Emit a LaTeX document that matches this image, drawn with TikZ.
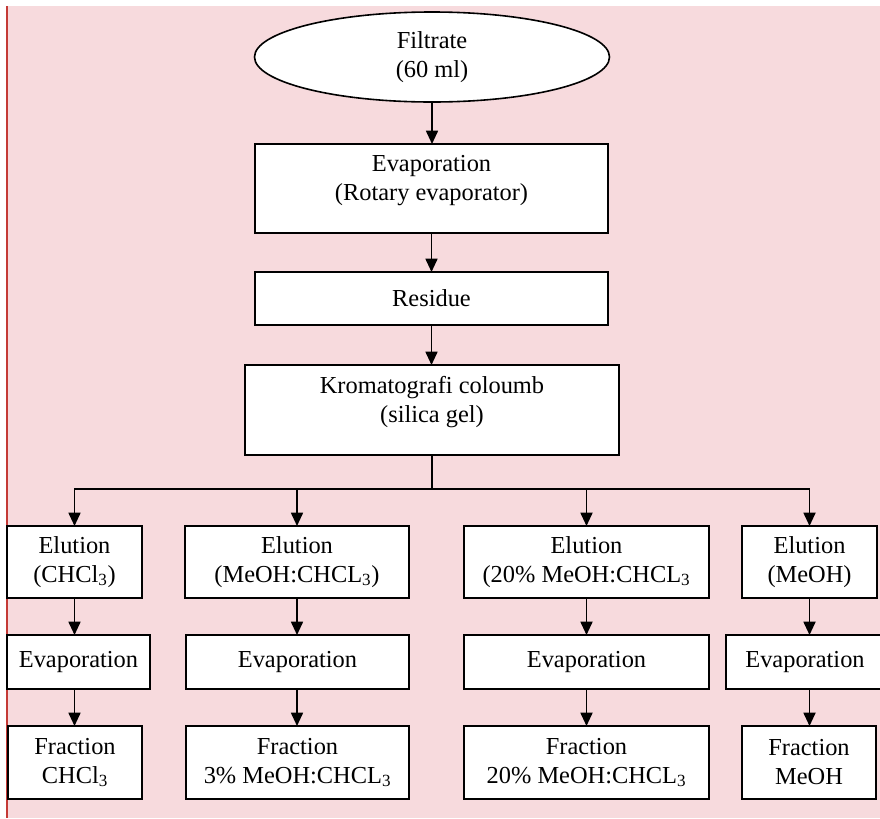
\documentclass[tikz,border=0pt]{standalone}
\usepackage{fontspec}
\setmainfont{Liberation Serif}
\usetikzlibrary{shapes.geometric,arrows.meta}
\definecolor{bgpink}{HTML}{F7DADD}
\definecolor{edgered}{HTML}{C43A36}
\begin{document}
\begin{tikzpicture}[x=0.75pt,y=-0.75pt,
  font=\fontsize{18.3}{21.75}\selectfont,
  every node/.style={inner sep=0pt, outer sep=0pt},
  box/.style={draw=black, line width=1.2pt, fill=white, rectangle, align=center},
  oval/.style={draw=black, line width=1.2pt, fill=white, ellipse, align=center},
  sz/.style 2 args={minimum width=#1*0.75pt, minimum height=#2*0.75pt},
  txt/.style={align=center},
  conn/.style={line width=1.3pt},
  arr/.style={line width=1.3pt, -{Triangle[length=10pt,width=9pt]}}]

% page and background panel
\useasboundingbox (0,0) rectangle (880,818);
\fill[white] (0,0) rectangle (880,818);
\fill[bgpink] (7,6) rectangle (880,818);
\draw[edgered, line width=1pt] (7,6) -- (7,818);

% main chain
\node[oval, sz={355}{90}] (fil) at (432,57) {Filtrate\\(60 ml)};
\node[box, sz={353}{89}] (evap) at (431.5,188.5) {};
\node[txt] (evaptxt) at (431.5,180.5) {Evaporation\\(Rotary evaporator)};
\node[box, sz={353}{53}] (res) at (431.5,298.5) {Residue};
\node[box, sz={374}{90}] (krom) at (432,410) {};
\node[txt] (kromtxt) at (432,402) {Kromatografi coloumb\\(silica gel)};
\coordinate (split) at (432,489);

% elution row
\node[box, sz={135}{72}] (e1) at (74.5,562) {Elution\\(CHCl\textsubscript{3})};
\node[box, sz={224}{72}] (e2) at (297,562) {Elution\\(MeOH:CHCL\textsubscript{3})};
\node[box, sz={245}{72}] (e3) at (586.5,562) {Elution\\(20\% MeOH:CHCL\textsubscript{3}};
\node[box, sz={135}{72}] (e4) at (809.5,562) {Elution\\(MeOH)};

% evaporation row
\node[box, sz={143}{54}] (v1) at (78.5,662) {Evaporation};
\node[box, sz={223}{54}] (v2) at (297.5,662) {Evaporation};
\node[box, sz={245}{54}] (v3) at (586.5,662) {Evaporation};
\node[box, sz={158}{54}] (v4) at (805,662) {Evaporation};

% fraction row
\node[box, sz={134}{73}] (f1) at (75,762.5) {Fraction\\CHCl\textsubscript{3}};
\node[box, sz={223}{73}] (f2) at (297.5,762.5) {Fraction\\3\% MeOH:CHCL\textsubscript{3}};
\node[box, sz={245}{73}] (f3) at (586.5,762.5) {Fraction\\20\% MeOH:CHCL\textsubscript{3}};
\node[box, sz={134}{73}] (f4) at (809,762.5) {Fraction\\MeOH};

% connectors
\draw[arr] (fil.south) -- (fil.south |- evap.north);
\draw[arr] (evap.south) -- (evap.south |- res.north);
\draw[arr] (res.south) -- (res.south |- krom.north);
\draw[conn] (krom.south) -- (split);
\foreach \c in {1,2,3,4}{
  \draw[arr] (split) -| (e\c.north);
  \draw[arr] (e\c.south) -- (e\c.south |- v\c.north);
  \draw[arr] (e\c.south |- v\c.south) -- (e\c.south |- f\c.north);
}
\end{tikzpicture}
\end{document}
